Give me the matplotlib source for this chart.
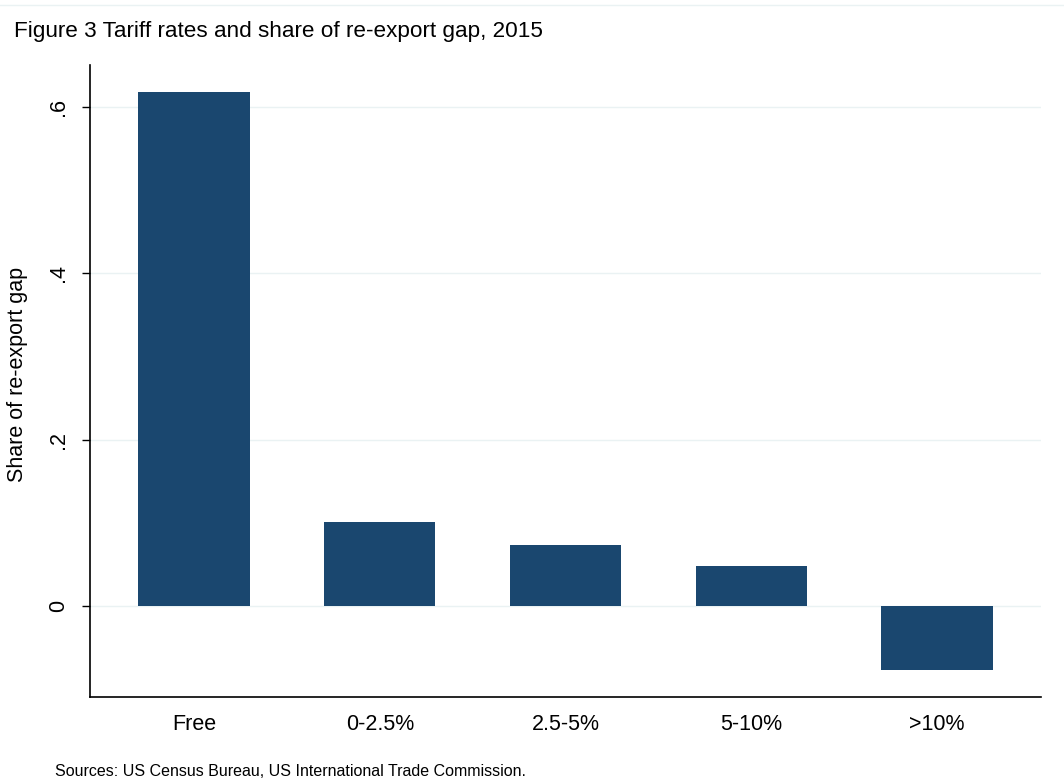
import matplotlib
matplotlib.use("Agg")
import matplotlib.pyplot as plt
from matplotlib.lines import Line2D

categories = ["Free", "0-2.5%", "2.5-5%", "5-10%", ">10%"]
shares = [0.617, 0.101, 0.073, 0.048, -0.077]
ytick_vals = [0, 0.2, 0.4, 0.6]
ytick_labels = ["0", ".2", ".4", ".6"]

plt.rcParams['font.family'] = ['Liberation Sans', 'DejaVu Sans']

fig = plt.figure(figsize=(10.64, 7.84), dpi=100)
ax = fig.add_axes([90/1064, 87/784, (1041-90)/1064, (697-65)/784])

x = list(range(len(categories)))
ax.bar(x, shares, width=0.6, color="#1a476f", zorder=3)

ax.set_xlim(-0.56, 4.56)
ax.set_ylim(-0.109, 0.65)
ax.set_yticks(ytick_vals)
ax.set_yticklabels(ytick_labels, rotation=90, va="center", fontsize=15.5)
ax.set_xticks(x)
ax.set_xticklabels(categories, fontsize=15.5)
ax.tick_params(axis='x', length=0, pad=12)
ax.tick_params(axis='y', length=6, width=1, pad=9)
ax.grid(axis='y', color="#eaf2f3", linewidth=1, zorder=0)
for s in ["top", "right"]:
    ax.spines[s].set_visible(False)
ax.spines["left"].set_linewidth(1.2)
ax.spines["bottom"].set_linewidth(1.2)
ax.set_ylabel("Share of re-export gap", fontsize=15.5)
ax.yaxis.set_label_coords(-0.065, 0.51)

fig.text(14/1064, 1 - 32/784, "Figure 3 Tariff rates and share of re-export gap, 2015",
         fontsize=16.2, va="center", ha="left")
fig.text(55/1064, 1 - 771/784, "Sources: US Census Bureau, US International Trade Commission.",
         fontsize=11.5, va="center", ha="left")
fig.add_artist(Line2D([0, 1], [1 - 5/784, 1 - 5/784], color="#eaf2f3", linewidth=1,
                      transform=fig.transFigure))

fig.savefig("out.png", dpi=100)
